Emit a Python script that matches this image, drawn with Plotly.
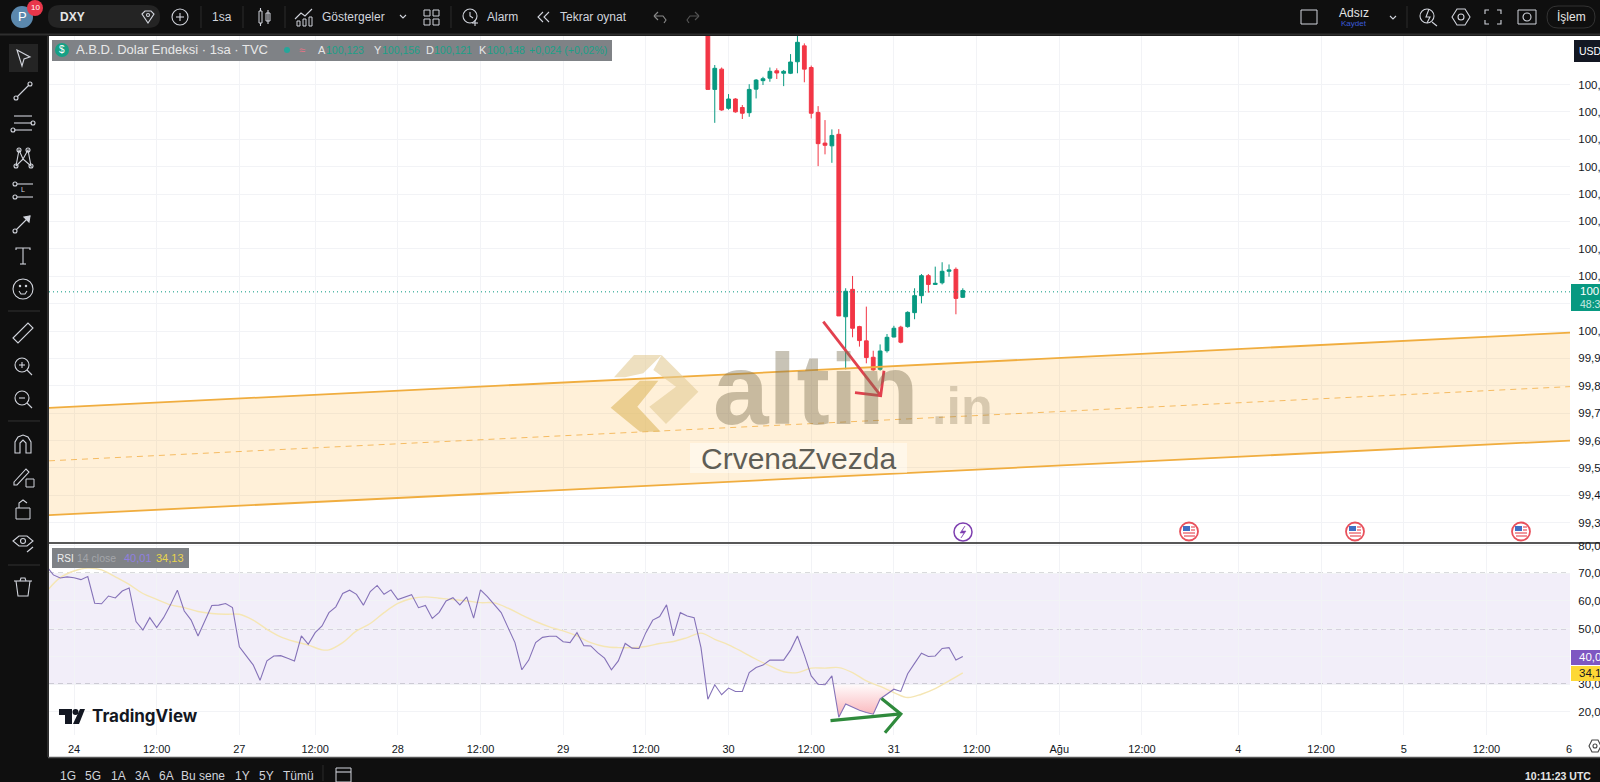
import plotly.graph_objects as go

# --- CONSTANTS ---
W, H = 1600, 782
FONT = "Liberation Sans"
DARK = "#0f0f0f"
ICON = "#d1d4dc"
TEXT = "#131722"
UP = "#089981"
DOWN = "#f23645"
GRID = "#f2f3f6"

# --- DATA ---
# bar numbers count hourly bars from the "24" tick
candle_bars = [92, 93, 94, 95, 96, 97, 98, 99, 100, 101, 102, 103, 104, 105, 106, 107, 108, 109, 110,
               111, 112, 113, 114, 115, 116, 117, 118, 119, 120, 121, 122, 123, 124, 125, 126, 127, 128, 129]
opens = [101.120, 100.882, 100.956, 100.813, 100.847, 100.816, 100.797, 100.883, 100.914, 100.923,
         100.950, 100.941, 100.941, 100.983, 101.041, 100.962, 100.798, 100.686, 100.676,
         100.718, 100.052, 100.152, 100.016, 99.964, 99.904, 99.860, 99.928, 99.978, 100.014,
         100.016, 100.067, 100.129, 100.202, 100.170, 100.176, 100.218, 100.225, 100.123]
highs = [101.130, 100.971, 100.962, 100.865, 100.850, 100.825, 100.901, 100.920, 100.928, 100.962,
         100.959, 100.953, 101.011, 101.080, 101.050, 100.969, 100.821, 100.770, 100.736,
         100.737, 100.156, 100.201, 100.019, 100.089, 99.928, 99.951, 99.989, 100.019, 100.019,
         100.072, 100.156, 100.208, 100.208, 100.235, 100.251, 100.243, 100.232, 100.156]
lows = [100.882, 100.760, 100.804, 100.808, 100.797, 100.774, 100.782, 100.849, 100.898, 100.910,
        100.920, 100.894, 100.938, 100.941, 100.908, 100.776, 100.602, 100.645, 100.614,
        100.055, 99.860, 99.977, 99.943, 99.882, 99.855, 99.855, 99.921, 99.977, 99.955,
        100.012, 100.043, 100.101, 100.140, 100.168, 100.170, 100.198, 100.061, 100.121]
closes = [100.882, 100.959, 100.807, 100.847, 100.800, 100.795, 100.882, 100.916, 100.921, 100.948,
          100.942, 100.948, 100.982, 101.054, 100.956, 100.795, 100.684, 100.678, 100.714,
          100.055, 100.145, 100.010, 99.965, 99.903, 99.858, 99.927, 99.977, 100.010, 99.959,
          100.068, 100.129, 100.202, 100.170, 100.174, 100.218, 100.223, 100.119, 100.148]
last_price = 100.143

rsi_bars = list(range(-4, 130))
rsi = [72.6, 69.4, 68.3, 68.7, 68.4, 67.7, 68.8, 59.2, 59.0, 61.8, 61.1, 63.6, 64.7, 52.6, 49.5, 54.0, 50.4,
       54.0, 58.6, 63.9, 56.4, 53.1, 47.4, 52.8, 58.4, 58.5, 59.1, 57.6, 43.5, 40.2, 37.0, 31.4, 38.4, 40.2,
       40.3, 39.4, 38.4, 47.4, 44.4, 48.6, 51.0, 55.8, 57.9, 62.7, 63.9, 62.4, 58.5, 63.4, 65.6, 62.4, 64.0,
       60.5, 61.4, 62.3, 57.6, 58.4, 53.7, 55.9, 60.0, 61.2, 58.6, 61.5, 53.8, 64.0, 61.6, 58.5, 55.8, 50.4,
       45.0, 35.2, 38.7, 45.0, 46.9, 47.3, 47.3, 45.3, 45.0, 48.6, 43.9, 43.8, 41.4, 39.4, 35.2, 38.4, 44.7,
       43.0, 42.9, 48.6, 53.1, 54.4, 58.6, 47.4, 55.8, 54.6, 54.0, 43.2, 24.6, 29.8, 26.2, 28.6, 27.4, 27.4,
       34.2, 36.0, 36.9, 38.7, 38.7, 38.7, 42.3, 47.4, 40.6, 33.0, 30.0, 29.8, 33.0, 18.1, 22.9, 21.6, 20.6,
       19.8, 19.2, 24.7, 26.4, 28.2, 27.4, 33.8, 37.5, 41.2, 40.0, 40.2, 42.9, 43.2, 38.7, 40.0]

rsi_ma_bars = [-4, -2, 0, 2, 4, 6, 8, 10, 12, 14, 16, 18, 20, 22, 24, 26, 28, 30, 32, 34, 36, 37, 39, 41, 43,
               45, 47, 49, 51, 53, 55, 57, 59, 61, 63, 65, 67, 69, 71, 73, 75, 77, 79, 81, 83, 85, 87, 89, 91,
               93, 95, 97, 99, 101, 103, 105, 107, 109, 111, 113, 115, 117, 119, 121, 123, 125, 127, 129]
rsi_ma = [63.4, 68.4, 70.8, 71.9, 71.2, 68.7, 66.0, 62.7, 60.6, 58.6, 57.6, 56.2, 55.5, 55.2, 55.2, 53.1, 49.8,
          47.1, 45.4, 44.1, 42.4, 42.4, 45.0, 49.2, 51.9, 55.8, 59.1, 60.9, 61.5, 61.0, 60.5, 60.0, 59.4, 59.3,
          57.4, 54.9, 52.6, 50.7, 49.2, 47.4, 45.0, 43.6, 43.2, 43.2, 43.6, 44.7, 45.4, 46.8, 48.4, 46.2, 44.2,
          41.7, 39.0, 36.6, 34.5, 34.2, 35.8, 35.8, 36.0, 34.2, 31.2, 29.2, 27.0, 25.2, 26.4, 28.4, 31.2, 34.1]

# stretch below the 30 level that is shaded pink
oversold_bars = [110.2, 111, 112, 113, 114, 115, 116, 117, 118, 119, 119.3]
oversold_rsi = [30.0, 18.1, 22.9, 21.6, 20.6, 19.8, 19.2, 24.7, 26.4, 28.2, 30.0]
oversold_base = [30, 30, 30, 30, 30, 30, 30, 30, 30, 30, 30]

# hand drawn channel, red arrow and green arrow
channel_bars = [-3.63, 217.13]
channel_top = [99.719, 99.994]
channel_mid = [99.526, 99.797]
channel_bottom = [99.328, 99.600]
red_arrow_bars = [108.75, 117.08, None, 113.35, 117.08, 117.56]
red_arrow_prices = [100.034, 99.764, None, 99.775, 99.764, 99.855]
green_arrow_bars = [109.8, 120.0, None, 117.2, 120.0, 117.7]
green_arrow_rsi = [16.9, 19.3, None, 24.9, 19.3, 12.5]

# axes
time_ticks = [0, 12, 24, 35, 47, 59, 71, 83, 95, 107, 119, 131, 143, 155, 169, 181, 193, 205, 217]
time_labels = ["24", "12:00", "27", "12:00", "28", "12:00", "29", "12:00", "30", "12:00", "31", "12:00",
               "Ağu", "12:00", "4", "12:00", "5", "12:00", "6"]
price_ticks = [99.3, 99.4, 99.5, 99.6, 99.7, 99.8, 99.9, 100.0, 100.1, 100.2, 100.3, 100.4, 100.5, 100.6,
               100.7, 100.8, 100.9]
# 100,100 sits behind the last price badge
price_labels = ["99,300", "99,400", "99,500", "99,600", "99,700", "99,800", "99,900", "100,000", "",
                "100,200", "100,300", "100,400", "100,500", "100,600", "100,700", "100,800", "100,900"]
rsi_ticks = [20, 30, 40, 50, 60, 70, 80]
rsi_labels = ["20,00", "30,00", "40,00", "50,00", "60,00", "70,00", "80,00"]
rsi_levels = [30, 50, 70]
range_buttons = ["1G", "5G", "1A", "3A", "6A", "Bu sene", "1Y", "5Y", "Tümü"]

shapes = []
annotations = []


# --- PIXEL HELPERS ---
def px(x):
    return x / W


def py(y):
    return 1 - y / H


def rect(x0, y0, x1, y1, fill=None, line=None, width=1, layer="above"):
    shapes.append(dict(type="rect", xref="paper", yref="paper", x0=px(x0), x1=px(x1), y0=py(y0), y1=py(y1),
                       fillcolor=fill, line=dict(color=line, width=width if line else 0), layer=layer))


def poly(cx, cy, pts, closed=False, color=ICON, width=1.1, fill=None):
    d = "M " + " L ".join(f"{px(cx + a):.5f} {py(cy + b):.5f}" for a, b in pts)
    if closed:
        d += " Z"
    shapes.append(dict(type="path", xref="paper", yref="paper", path=d, fillcolor=fill,
                       line=dict(color=color, width=width if color else 0), layer="above"))


def ring(cx, cy, r, color=ICON, width=1.1, fill=None):
    shapes.append(dict(type="circle", xref="paper", yref="paper", x0=px(cx - r), x1=px(cx + r), y0=py(cy + r),
                       y1=py(cy - r), fillcolor=fill, line=dict(color=color, width=width if color else 0),
                       layer="above"))


def label(x, y, s, size=12, color=ICON, anchor="left", family=FONT):
    annotations.append(dict(xref="paper", yref="paper", x=px(x), y=py(y), text=s, showarrow=False, xanchor=anchor,
                            yanchor="middle", borderpad=0, font=dict(size=size, color=color, family=family)))


# --- TOOLBARS ---
def draw_left_toolbar():
    x = 23
    rect(9, 44, 38, 72, fill="#242424")
    poly(x, 58, [(-6, -8), (7, -1), (1, 1), (-1, 8)], closed=True)
    # line
    poly(x, 91, [(-6, 6), (6, -6)])
    ring(x - 7, 98, 2)
    ring(x + 7, 84, 2)
    # parallel lines
    for dy in (-7, 0, 7):
        poly(x, 123, [(-9, dy), (9, dy)])
    ring(x + 10, 123, 2)
    ring(x - 10, 130, 2)
    # nodes
    poly(x, 158, [(-7, 8), (-4, -8), (0, 1), (5, -8), (8, 8), (0, 1), (-7, 8)])
    for a, b in [(-7, 8), (-4, -8), (5, -8), (8, 8)]:
        ring(x + a, 158 + b, 2)
    # fib
    poly(x, 190, [(-6, -6), (10, -6)])
    poly(x, 190, [(-6, 7), (10, 7)])
    ring(x - 8, 184, 2)
    ring(x - 8, 197, 2)
    label(x, 190, "L", size=7, anchor="center")
    # arrow tool
    poly(x, 223, [(-7, 7), (7, -7)])
    poly(x, 223, [(1, -6), (7, -7), (6, -1)], closed=True, fill=ICON)
    ring(x - 8, 231, 2)
    # text
    poly(x, 256, [(-7, -6), (-7, -8), (7, -8), (7, -6)])
    poly(x, 256, [(0, -8), (0, 8)])
    poly(x, 256, [(-3, 8), (3, 8)])
    # smile
    ring(x, 289, 10)
    poly(x, 289, [(-4, 2), (-2, 5), (2, 5), (4, 2)])
    ring(x - 3, 286, 0.7)
    ring(x + 3, 286, 0.7)
    # separators
    for y in (311, 421, 565):
        poly(0, y, [(8, 0), (40, 0)], color="#333333", width=1)
    # ruler
    poly(x, 333, [(-10, 5), (5, -10), (10, -5), (-5, 10)], closed=True)
    # zoom in and out
    for y, plus in ((366, True), (399, False)):
        ring(x - 1, y - 1, 7)
        poly(x, y, [(4, 4), (9, 9)])
        poly(x - 1, y - 1, [(-3, 0), (3, 0)])
        if plus:
            poly(x - 1, y - 1, [(0, -3), (0, 3)])
    # magnet
    poly(x, 444, [(-8, 9), (-8, -2), (-5, -7), (0, -9), (5, -7), (8, -2), (8, 9), (3, 9), (3, -1), (0, -4),
                  (-3, -1), (-3, 9)], closed=True)
    # pencil with lock
    poly(x, 476, [(-9, 6), (3, -7), (6, -4), (-6, 9), (-9, 9)], closed=True)
    rect(x + 3, 479, x + 11, 487, line=ICON)
    # lock
    rect(x - 7, 508, x + 7, 519, line=ICON)
    poly(x, 508, [(-4, 0), (-4, -5), (0, -8), (4, -5)])
    # eye
    poly(x, 541, [(-10, 0), (-4, -5), (4, -5), (10, 0), (4, 5), (-4, 5)], closed=True)
    ring(x, 541, 2.5)
    poly(x, 541, [(4, 11), (10, 6)])
    # trash
    poly(x, 587, [(-9, -6), (9, -6)])
    poly(x, 587, [(-7, -6), (-5, 9), (5, 9), (7, -6)])
    poly(x, 587, [(-3, -6), (-2, -9), (2, -9), (3, -6)])


def draw_top_toolbar():
    # avatar and badge
    ring(22, 17, 11, color=None, fill="#5b88ad")
    label(22, 17, "P", size=13, color="white", anchor="center")
    ring(35, 8, 8, color=None, fill="#e8364a")
    label(35, 8, "10", size=8, color="white", anchor="center")
    # symbol search pill
    shapes.append(dict(type="path", xref="paper", yref="paper", layer="above", fillcolor="#242424", line=dict(width=0),
                       path=f"M {px(60)} {py(5)} L {px(148)} {py(5)} Q {px(160)} {py(5)} {px(160)} {py(17)} "
                            f"Q {px(160)} {py(28)} {px(148)} {py(28)} L {px(60)} {py(28)} "
                            f"Q {px(48)} {py(28)} {px(48)} {py(17)} Q {px(48)} {py(5)} {px(60)} {py(5)} Z"))
    label(59, 17, "<b>DXY</b>", size=12, color="#e6e6e6")
    poly(148, 17, [(-6, -3), (-3, -6), (3, -6), (6, -3), (0, 6)], closed=True)
    ring(148, 15, 1.5)
    # add symbol
    ring(180, 17, 8)
    poly(180, 17, [(-4, 0), (4, 0)])
    poly(180, 17, [(0, -4), (0, 4)])
    for x in (201, 243, 285, 451, 1407):
        poly(x, 17, [(0, -11), (0, 11)], color="#2c2c2c", width=1)
    label(222, 17, "1sa", size=12, anchor="center")
    # candle icon
    rect(259, 11, 262, 23, line=ICON)
    poly(260.5, 17, [(0, -9), (0, -6)])
    poly(260.5, 17, [(0, 6), (0, 9)])
    rect(266, 13, 270, 21, line=ICON)
    poly(268, 17, [(0, -7), (0, 7)])
    # indicators
    poly(304, 17, [(-9, 2), (-3, -4), (1, -1), (8, -8)])
    rect(297, 21, 300, 26, line=ICON)
    rect(303, 19, 306, 26, line=ICON)
    rect(309, 17, 312, 26, line=ICON)
    label(321, 17, "Göstergeler", size=12)
    poly(403, 16, [(-3, -1), (0, 2), (3, -1)])
    for a, b in [(424, 10), (433, 10), (424, 19), (433, 19)]:
        rect(a, b, a + 6, b + 6, line=ICON)
    # alarm
    ring(470, 16, 7)
    poly(470, 16, [(0, -4), (0, 0), (3, 2)])
    poly(470, 16, [(5, 4), (5, 10)])
    poly(470, 16, [(2, 7), (8, 7)])
    label(486, 17, "Alarm", size=12)
    poly(544, 17, [(-1, -5), (-6, 0), (-1, 5)])
    poly(544, 17, [(5, -5), (0, 0), (5, 5)])
    label(559, 17, "Tekrar oynat", size=12)
    poly(660, 17, [(-6, -1), (-2, -5)], color="#8a8a8a")
    poly(660, 17, [(-6, -1), (-2, 3)], color="#8a8a8a")
    poly(660, 17, [(-6, -1), (3, -1), (6, 3), (4, 6)], color="#8a8a8a")
    poly(693, 17, [(6, -1), (2, -5)], color="#555555")
    poly(693, 17, [(6, -1), (2, 3)], color="#555555")
    poly(693, 17, [(6, -1), (-3, -1), (-6, 3), (-4, 6)], color="#555555")
    # right side
    rect(1301, 10, 1317, 24, line=ICON)
    label(1354, 13, "Adsız", size=12, color="#e6e6e6", anchor="center")
    label(1354, 24, "Kaydet", size=8, color="#3b5bdb", anchor="center")
    poly(1393, 17, [(-3, -1), (0, 2), (3, -1)])
    ring(1427, 16, 7)
    poly(1428, 17, [(1, -8), (-2, 0), (2, 0), (-1, 6)])
    poly(1428, 17, [(4, 5), (9, 9)])
    poly(1461, 17, [(-9, 0), (-4, -8), (4, -8), (9, 0), (4, 8), (-4, 8)], closed=True)
    ring(1461, 17, 3)
    for a, b, c, d in [(-8, -3, -8, -7), (8, -3, 8, -7), (-8, 3, -8, 7), (8, 3, 8, 7)]:
        poly(1493, 17, [(a, b), (c, d), (-a / 2 + a, d)])
    rect(1518, 10, 1536, 24, line=ICON)
    ring(1527, 17, 4)
    shapes.append(dict(type="path", xref="paper", yref="paper", layer="above", line=dict(color="#333333", width=1),
                       path=f"M {px(1558)} {py(6)} L {px(1584)} {py(6)} Q {px(1595)} {py(6)} {px(1595)} {py(17)} "
                            f"Q {px(1595)} {py(28)} {px(1584)} {py(28)} L {px(1558)} {py(28)} "
                            f"Q {px(1547)} {py(28)} {px(1547)} {py(17)} Q {px(1547)} {py(6)} {px(1558)} {py(6)} Z"))
    label(1571, 17, "İşlem", size=12, color="#e6e6e6", anchor="center")


def draw_bottom_toolbar():
    for x, s in zip([68, 93, 118, 142, 166, 203, 242, 266, 298], range_buttons):
        label(x, 776, s, size=12, anchor="center")
    poly(323, 772, [(0, -7), (0, 9)], color="#2c2c2c", width=1)
    rect(336, 768, 351, 782, line=ICON)
    poly(343, 772, [(-7, 0), (8, 0)])
    label(1592, 776, "<b>10:11:23 UTC</b>", size=10.5, anchor="right", color="#e6e6e6")


# --- PRICE AXIS BADGES ---
def draw_axis_badges():
    rect(1574, 40, 1604, 62, fill="#131722")
    label(1578, 51, "USD", size=10.5, color="white")
    rect(1571, 284, 1604, 311, fill=UP)
    label(1579, 291, "100,148", size=11.5, color="white")
    label(1579, 304, "48:37", size=10.5, color="#c8ebe4")
    rect(1571, 650, 1604, 665, fill="#7e57c2")
    label(1578, 657, "40,01", size=11.5, color="white")
    rect(1571, 666, 1604, 681, fill="#fdd835")
    label(1578, 673, "34,13", size=11.5, color=TEXT)
    # settings gear next to the time axis
    poly(1595, 746, [(-6, 0), (-3, -6), (3, -6), (6, 0), (3, 6), (-3, 6)], closed=True, color="#444444")
    ring(1595, 746, 2, color="#444444")


def draw_event_icons():
    ring(963, 532, 9, color="#7e3fb0", width=1.5, fill="white")
    poly(963, 532, [(2, -6), (-3, 1), (1, 1), (-2, 6), (3, -1), (-1, -1)], closed=True, color="#7e3fb0", fill="#7e3fb0",
         width=0.5)
    for x in (1189, 1355, 1521):
        ring(x, 531.5, 9, color="#e8505b", width=1.8, fill="white")
        rect(x - 6, 526, x + 1, 531, fill="#3f6fc4")
        for dy, left in ((527, 2), (530, 2), (533, -6), (536, -5)):
            poly(x, dy, [(left, 0), (6, 0)], color="#e8505b", width=1.2)


# --- LEGENDS AND WATERMARKS ---
def draw_legends():
    rect(52, 40, 612, 61, fill="rgba(120,123,128,0.95)")
    ring(62, 50, 7, color=None, fill="#16a085")
    label(62, 50, "$", size=10, color="white", anchor="center")
    label(75, 50, "A.B.D. Dolar Endeksi · 1sa · TVC", size=13, color="#e8e8e8")
    ring(287, 50, 3, color=None, fill="#26a69a")
    label(302, 50, "≈", size=11, color="#e57385", anchor="center")
    for x, key, val in [(317, "A", "100,123"), (373, "Y", "100,156"), (425, "D", "100,121"), (478, "K", "100,148")]:
        label(x, 50, key, size=11, color="#e8e8e8")
        label(x + 8, 50, val, size=10.5, color="#1aa088")
    label(528, 50, "+0,024 (+0,02%)", size=10.5, color="#1aa088")
    rect(52, 548, 189, 568, fill="rgba(120,123,128,0.95)")
    label(56, 558, "RSI", size=10, color="#f0f0f0")
    label(76, 558, "14 close", size=10.5, color="#a4a6ab")
    label(123, 558, "40,01", size=11, color="#8f7fe0")
    label(155, 558, "34,13", size=11, color="#e8d44d")


def draw_tradingview_logo():
    poly(0, 0, [(59, 709), (72, 709), (72, 724), (65, 724), (65, 715), (59, 715)], closed=True, color=None, fill=TEXT)
    ring(75.5, 712, 3, color=None, fill=TEXT)
    poly(0, 0, [(80, 709), (85, 709), (79, 724), (73, 724)], closed=True, color=None, fill=TEXT)
    label(91, 716, "<b>TradingView</b>", size=17, color=TEXT, family="Inter")


def draw_watermark():
    gold = "rgba(222,186,100,0.62)"
    pale = "rgba(226,204,150,0.6)"
    zx = lambda a: 590 + a / 3
    zy = lambda b: 340 + b / 3
    pts_a = [(72, 112), (132, 45), (215, 45), (160, 100), (105, 112)]
    pts_b = [(215, 45), (325, 155), (228, 252), (178, 200), (258, 140), (190, 90)]
    pts_c = [(62, 203), (150, 122), (205, 122), (142, 200), (212, 275), (150, 275)]
    poly(0, 0, [(zx(a), zy(b)) for a, b in pts_a], closed=True, color=None, fill=pale)
    poly(0, 0, [(zx(a), zy(b)) for a, b in pts_b], closed=True, color=None, fill=pale)
    poly(0, 0, [(zx(a), zy(b)) for a, b in pts_c], closed=True, color=None, fill=gold)
    label(712, 389, "<b>altin</b>", size=100, color="rgba(125,112,80,0.42)")
    label(931, 406, "<b>.in</b>", size=52, color="rgba(125,112,80,0.30)")
    rect(690, 443, 907, 473, fill="rgba(255,255,255,0.45)")
    label(700, 458, "CrvenaZvezda", size=30, color="#5f5e56", family="Liberation Sans")


draw_left_toolbar()
draw_top_toolbar()
draw_bottom_toolbar()
draw_axis_badges()
draw_event_icons()
draw_legends()
draw_tradingview_logo()
draw_watermark()

# --- PANES ---
# white chart area below everything
rect(49, 36, 1600, 757, fill="white", layer="below")
# thin grey frame between the toolbars and the chart
poly(0, 0, [(0, 34.5), (1600, 34.5)], color="#2e2e2e", width=2)
poly(0, 0, [(48, 36), (48, 757)], color="#3a3a3a", width=1.5)
poly(0, 0, [(48, 757.5), (1600, 757.5)], color="#555555", width=1.5)
# pane separator
poly(0, 0, [(49, 543), (1600, 543)], color="#202020", width=1.4)

shapes.append(dict(type="rect", xref="x domain", yref="y2", x0=0, x1=1, y0=rsi_levels[0], y1=rsi_levels[-1],
                   fillcolor="rgba(126,87,194,0.10)", line=dict(width=0), layer="below"))
for level in rsi_levels:
    shapes.append(dict(type="line", xref="x domain", yref="y2", x0=0, x1=1, y0=level, y1=level, layer="below",
                       line=dict(color="#70737c", width=1, dash="5px,4px")))

fig = go.Figure()

# channel
fig.add_trace(go.Scatter(x=channel_bars, y=channel_bottom, mode="lines", line=dict(color="#f0ad3f", width=1.8),
                         xaxis="x", yaxis="y", hoverinfo="skip"))
fig.add_trace(go.Scatter(x=channel_bars, y=channel_top, mode="lines", line=dict(color="#f0ad3f", width=1.8),
                         fill="tonexty", fillcolor="rgba(255,178,60,0.20)", xaxis="x", yaxis="y", hoverinfo="skip"))
fig.add_trace(go.Scatter(x=channel_bars, y=channel_mid, mode="lines",
                         line=dict(color="rgba(242,169,59,0.75)", width=1, dash="6px,5px"),
                         xaxis="x", yaxis="y", hoverinfo="skip"))

# last price line
fig.add_trace(go.Scatter(x=channel_bars, y=[last_price, last_price], mode="lines",
                         line=dict(color=UP, width=1, dash="1px,3px"), xaxis="x", yaxis="y", hoverinfo="skip"))

fig.add_trace(go.Candlestick(x=candle_bars, open=opens, high=highs, low=lows, close=closes, xaxis="x", yaxis="y",
                             increasing=dict(line=dict(color=UP, width=1), fillcolor=UP),
                             decreasing=dict(line=dict(color=DOWN, width=1), fillcolor=DOWN)))

fig.add_trace(go.Scatter(x=red_arrow_bars, y=red_arrow_prices, mode="lines", line=dict(color="#e2404e", width=2.8),
                         xaxis="x", yaxis="y", hoverinfo="skip"))

# RSI pane
fig.add_trace(go.Scatter(x=oversold_bars, y=oversold_base, mode="lines", line=dict(width=0), xaxis="x2", yaxis="y2",
                         hoverinfo="skip"))
fig.add_trace(go.Scatter(x=oversold_bars, y=oversold_rsi, mode="lines", line=dict(width=0), xaxis="x2", yaxis="y2",
                         fill="tonexty", hoverinfo="skip",
                         fillgradient=dict(type="vertical", start=30, stop=18,
                                           colorscale=[[0, "rgba(242,54,69,0.02)"], [1, "rgba(242,54,69,0.38)"]])))
fig.add_trace(go.Scatter(x=rsi_ma_bars, y=rsi_ma, mode="lines", line=dict(color="#f5e6b4", width=1.4, shape="spline"),
                         xaxis="x2", yaxis="y2", hoverinfo="skip"))
fig.add_trace(go.Scatter(x=rsi_bars, y=rsi, mode="lines", line=dict(color="#8572b8", width=1.1),
                         xaxis="x2", yaxis="y2", hoverinfo="skip"))
fig.add_trace(go.Scatter(x=green_arrow_bars, y=green_arrow_rsi, mode="lines", line=dict(color="#2f8a3c", width=3.2),
                         xaxis="x2", yaxis="y2", hoverinfo="skip"))

x_domain = [px(49), px(1570)]
x_range = [channel_bars[0], channel_bars[1]]
axis_font = dict(family=FONT, size=11.5, color=TEXT)
time_font = dict(family=FONT, size=11, color=TEXT)

fig.update_layout(
    width=W, height=H, margin=dict(l=0, r=0, t=0, b=0, autoexpand=False), autosize=False, showlegend=False,
    font=dict(family=FONT), paper_bgcolor=DARK, plot_bgcolor="rgba(0,0,0,0)", boxgap=0.22, shapes=shapes,
    annotations=annotations,
    xaxis=dict(domain=x_domain, range=x_range, anchor="y", tickvals=time_ticks, showticklabels=False, ticks="",
               showgrid=True, gridcolor=GRID, gridwidth=1, zeroline=False, showline=False,
               rangeslider=dict(visible=False)),
    yaxis=dict(domain=[py(543), py(36)], range=[99.226, 101.077], anchor="x", side="right", tickvals=price_ticks,
               ticktext=price_labels, tickfont=axis_font, ticks="outside", ticklen=5, tickcolor="white",
               ticklabeloverflow="allow", showgrid=True, gridcolor=GRID, zeroline=False, showline=False),
    xaxis2=dict(domain=x_domain, range=x_range, anchor="y2", tickvals=time_ticks, ticktext=time_labels,
                tickfont=time_font, ticks="outside", ticklen=4, tickcolor="white", ticklabeloverflow="allow",
                tickangle=0, showgrid=True, gridcolor=GRID, zeroline=False, showline=False),
    yaxis2=dict(domain=[py(735), py(544)], range=[11.7, 80.54], anchor="x2", side="right", tickvals=rsi_ticks,
                ticktext=rsi_labels, tickfont=axis_font, ticks="outside", ticklen=5, tickcolor="white",
                ticklabeloverflow="allow", showgrid=True, gridcolor=GRID, zeroline=False, showline=False),
)

fig.write_html("out.html", config=dict(displayModeBar=False), post_script="document.body.style.margin='0';")
